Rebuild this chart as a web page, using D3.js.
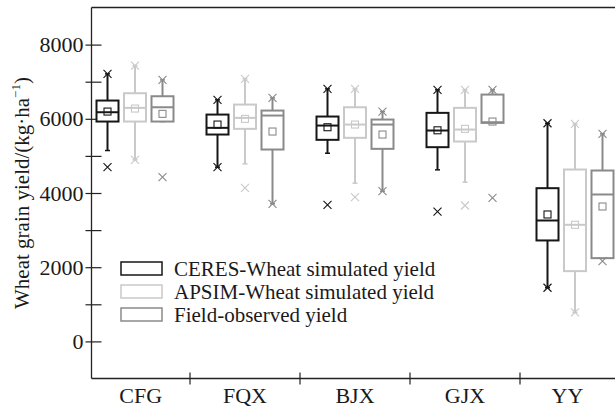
<!DOCTYPE html>
<html>
<head>
<meta charset="utf-8">
<script src="https://cdn.jsdelivr.net/npm/d3@7/dist/d3.min.js"></script>
<style>
  html, body { margin: 0; padding: 0; background: #fff; }
</style>
</head>
<body>
<svg id="chart" width="615" height="409"></svg>
<script>
// ---- data ----
const categories = ["CFG", "FQX", "BJX", "GJX", "YY"];
const seriesNames = ["CERES-Wheat simulated yield", "APSIM-Wheat simulated yield", "Field-observed yield"];
const yTicks = [0, 2000, 4000, 6000, 8000];
const yMinorTicks = [1000, 3000, 5000, 7000];
// each row: [min, whiskerLow, q1, median, q3, whiskerHigh, max, mean]
const ceres = [
  [4695, 5145, 5926, 6177, 6492, 7211, 7211, 6195],
  [4695, 4695, 5576, 5756, 6114, 6511, 6511, 5845],
  [3680, 5072, 5433, 5818, 6061, 6807, 6807, 5773],
  [3500, 4624, 5235, 5684, 6160, 6780, 6780, 5690],
  [1446, 1446, 2721, 3259, 4130, 5880, 5880, 3421]
];
const apsim = [
  [4894, 4894, 5926, 6295, 6689, 7434, 7434, 6276],
  [4140, 4786, 5729, 6025, 6384, 7076, 7076, 5998],
  [3887, 4265, 5487, 5845, 6311, 6807, 6807, 5845],
  [3663, 4291, 5387, 5710, 6295, 6780, 6780, 5729],
  [780, 780, 1894, 3143, 4633, 5863, 5863, 3143]
];
const field = [
  [4426, 5926, 5926, 6311, 6608, 7049, 7049, 6133],
  [3709, 3709, 5172, 6088, 6222, 6564, 6564, 5657],
  [4049, 4049, 5190, 5845, 5980, 6195, 6195, 5576],
  [3870, 5890, 5890, 5907, 6653, 6780, 6780, 5926],
  [2163, 2244, 2244, 3960, 4606, 5594, 5594, 3636]
];
const seriesData = [ceres, apsim, field];
const colors = ["#161616", "#c9c9c9", "#8a8a8a"];

// ---- layout ----
const FONT = "'Liberation Serif', 'Times New Roman', Times, serif";
const W = 615, H = 409;
const plotLeft = 91.5, plotRight = 616, plotTop = 7.5, plotBottom = 378.5;
const svg = d3.select("#chart");

const y = d3.scaleLinear().domain([-1000, 9000]).range([plotBottom, plotTop]);
const x = d3.scaleBand().domain(categories).range([80, 630]).padding(0);
const xs = d3.scaleBand().domain(d3.range(seriesNames.length)).range([0, x.bandwidth()]).paddingInner(0).paddingOuter(0.5);
const boxW = xs.bandwidth() * 0.8;

// top frame line
svg.append("line").attr("x1", plotLeft).attr("x2", plotRight).attr("y1", plotTop).attr("y2", plotTop)
  .attr("stroke", "#222").attr("stroke-width", 1.3);

// y axis
const yAxis = d3.axisLeft(y).tickValues(yTicks).tickSize(6).tickPadding(2).tickFormat(d3.format("d"));
const gy = svg.append("g").attr("transform", `translate(${plotLeft},0)`).call(yAxis);
gy.select(".domain").attr("stroke", "#222").attr("stroke-width", 1.3).attr("d", `M0,${plotTop}V${plotBottom}`);
gy.selectAll(".tick line").attr("stroke", "#222").attr("stroke-width", 1.2);
gy.selectAll(".tick text").style("font-family", FONT).style("font-size", "22px").attr("fill", "#1a1a1a");
// inner ticks at all thousands
const gyIn = svg.append("g").attr("transform", `translate(${plotLeft},0)`)
  .call(d3.axisRight(y).tickValues(yTicks.concat(yMinorTicks)).tickSize(10).tickFormat(""));
gyIn.select(".domain").remove();
gyIn.selectAll(".tick line").attr("stroke", "#222").attr("stroke-width", 1.2);
// outer minor ticks
const gyMin = svg.append("g").attr("transform", `translate(${plotLeft},0)`)
  .call(d3.axisLeft(y).tickValues(yMinorTicks).tickSize(6).tickFormat(""));
gyMin.select(".domain").remove();
gyMin.selectAll(".tick line").attr("stroke", "#222").attr("stroke-width", 1.2);

// x axis
const gx = svg.append("g").attr("transform", `translate(0,${plotBottom})`);
gx.append("line").attr("x1", plotLeft).attr("x2", plotRight).attr("y1", 0).attr("y2", 0)
  .attr("stroke", "#222").attr("stroke-width", 1.3);
gx.selectAll("line.tk").data(categories.slice(1)).enter().append("line").attr("class", "tk")
  .attr("x1", d => x(d)).attr("x2", d => x(d)).attr("y1", -6).attr("y2", 6)
  .attr("stroke", "#222").attr("stroke-width", 1.2);
gx.selectAll("text").data(categories).enter().append("text")
  .attr("x", d => (Math.max(x(d), plotLeft) + Math.min(x(d) + x.bandwidth(), W)) / 2)
  .attr("y", 24).attr("text-anchor", "middle")
  .style("font-family", FONT).style("font-size", "22px").attr("fill", "#1a1a1a")
  .text(d => d);

// y title
const yt = svg.append("text").attr("transform", `translate(29,${(plotTop + plotBottom) / 2}) rotate(-90)`)
  .attr("text-anchor", "middle").style("font-family", FONT).style("font-size", "21px").attr("fill", "#1a1a1a");
yt.append("tspan").text("Wheat grain yield/(kg·ha");
yt.append("tspan").style("font-size", "13px").attr("dy", -9).text("−1");
yt.append("tspan").attr("dy", 9).text(")");

// boxes
const capW = 5, xm = 4;
seriesData.forEach((data, si) => {
  const col = colors[si];
  const g = svg.append("g").attr("stroke", col).attr("fill", "none");
  data.forEach((r, ci) => {
    const [mn, wl, q1, med, q3, wh, mx, mean] = r;
    const cx = x(categories[ci]) + xs(si) + xs.bandwidth() / 2;
    const sw = 2;
    g.append("line").attr("x1", cx).attr("x2", cx).attr("y1", y(q3)).attr("y2", y(wh)).attr("stroke-width", sw);
    g.append("line").attr("x1", cx).attr("x2", cx).attr("y1", y(q1)).attr("y2", y(wl)).attr("stroke-width", sw);
    g.append("line").attr("x1", cx - capW / 2).attr("x2", cx + capW / 2).attr("y1", y(wh)).attr("y2", y(wh)).attr("stroke-width", 1.5);
    g.append("line").attr("x1", cx - capW / 2).attr("x2", cx + capW / 2).attr("y1", y(wl)).attr("y2", y(wl)).attr("stroke-width", 1.5);
    g.append("rect").attr("x", cx - boxW / 2).attr("y", y(q3)).attr("width", boxW).attr("height", y(q1) - y(q3))
      .attr("fill", "#fff").attr("stroke-width", sw);
    g.append("line").attr("x1", cx - boxW / 2).attr("x2", cx + boxW / 2).attr("y1", y(med)).attr("y2", y(med)).attr("stroke-width", sw);
    g.append("rect").attr("x", cx - 3.5).attr("y", y(mean) - 3.5).attr("width", 7).attr("height", 7).attr("stroke-width", 1.1);
    [mn, mx].forEach(v => {
      g.append("path").attr("d", `M${cx - xm},${y(v) - xm}L${cx + xm},${y(v) + xm}M${cx - xm},${y(v) + xm}L${cx + xm},${y(v) - xm}`)
        .attr("stroke-width", 1.1);
    });
  });
});

// legend
const lg = svg.append("g").attr("transform", "translate(121,262)");
seriesNames.forEach((name, i) => {
  const row = lg.append("g").attr("transform", `translate(0,${i * 23})`);
  row.append("rect").attr("x", 0).attr("y", 0).attr("width", 41).attr("height", 13)
    .attr("fill", "#fff").attr("stroke", colors[i]).attr("stroke-width", 1.5);
  row.append("text").attr("x", 53).attr("y", 13.5)
    .style("font-family", FONT).style("font-size", "21px").attr("fill", "#1a1a1a").text(name);
});
</script>
</body>
</html>
